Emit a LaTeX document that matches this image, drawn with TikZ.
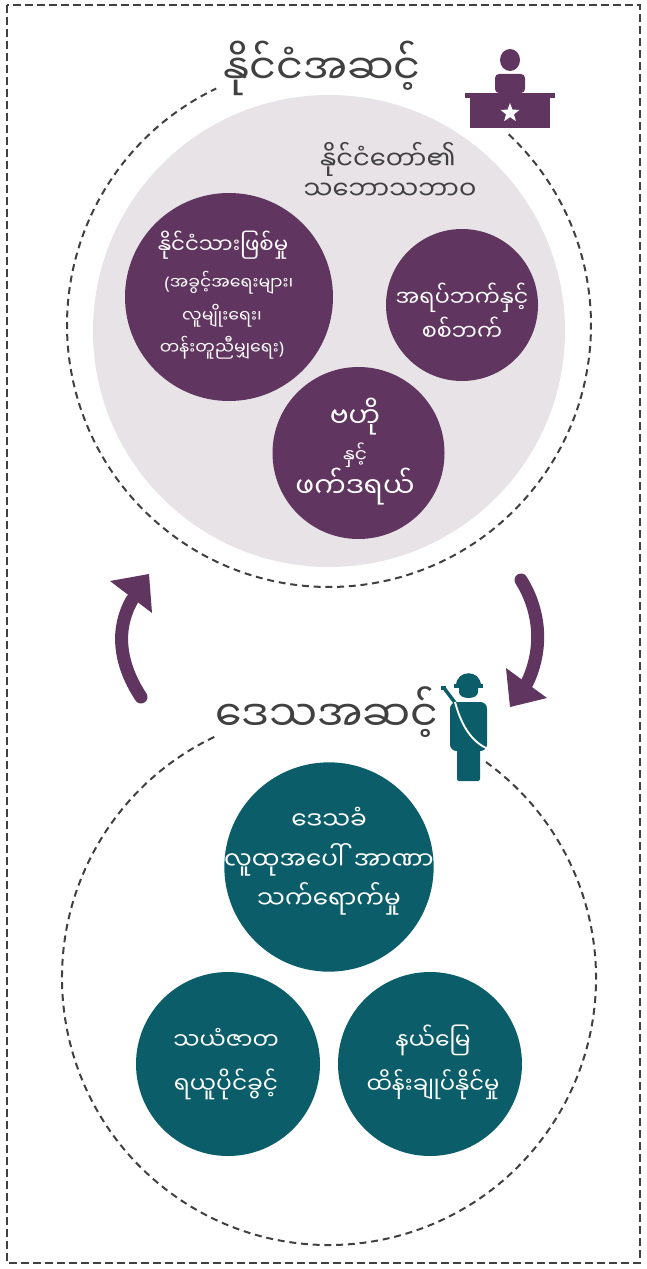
\documentclass[tikz,border=0pt]{standalone}
\usepackage{fontspec}
\newfontfamily\mya[Script=Myanmar]{Noto Sans Myanmar UI}
\newfontfamily\latf{Noto Sans}
\usetikzlibrary{shapes.geometric}
\definecolor{plum}{HTML}{60355F}
\definecolor{tealc}{HTML}{0B5E69}
\definecolor{lgray}{HTML}{E7E3E6}
\definecolor{dgray}{HTML}{404040}
\tikzset{
  mtext/.style={font=\mya\fontsize{#1}{#1}\selectfont, inner sep=0pt, anchor=base},
  wtext/.style={mtext=#1, text=white},
  gtext/.style={mtext=#1, text=dgray},
  dashline/.style={draw=dgray, line width=1.5pt, dash pattern=on 5.2pt off 3.6pt},
  bubble/.style={circle, fill=#1, draw=none, inner sep=0pt},
  bigarrow/.style={draw=plum, line width=9.75pt, line cap=round},
}
\begin{document}
\begin{tikzpicture}[x=0.75pt,y=-0.75pt]
\useasboundingbox (0,0) rectangle (646,1269);
% outer frame
\draw[draw=dgray, line width=1.6pt, dash pattern=on 6pt off 3pt] (7,5) rectangle (640,1263);

% ---------- top (state level) ----------
\node[bubble=lgray, minimum size=354pt] (grayc) at (329,331) {};
\draw[dashline] (329,325) ++(-46.7:262) arc[start angle=-46.7, end angle=244.5, radius=262];
\node[bubble=plum, minimum size=156pt] (cit) at (229,297) {};
\node[bubble=plum, minimum size=114pt] (civ) at (462,305) {};
\node[bubble=plum, minimum size=129pt] (fed) at (358.5,453) {};

\node[gtext=31] (t1) at (322,85) {နိုင်ငံအဆင့်};
\node[gtext=19.3] (n1) at (388,170) {နိုင်ငံတော်၏};
\node[gtext=19.3] (n2) at (390,200) {သဘောသဘာဝ};

\node[wtext=16] (c1) at (223,254) {နိုင်ငံသားဖြစ်မှု};
\node[wtext=13] (c2) at (229,290) {{\latf (}အခွင့်အရေးများ၊};
\node[wtext=13] (c3) at (222,322) {လူမျိုးရေး၊};
\node[wtext=13] (c4) at (222,354) {တန်းတူညီမျှရေး{\latf )}};

\node[wtext=16.7] (v1) at (462,306) {အရပ်ဘက်နှင့်};
\node[wtext=16.7] (v2) at (462,340) {စစ်ဘက်};

\node[wtext=21] (f1) at (355,427) {ဗဟို};
\node[wtext=14] (f2) at (355,462) {နှင့်};
\node[wtext=21] (f3) at (355,497) {ဖက်ဒရယ်};

% podium icon
\fill[plum] (510,60) ellipse[x radius=10, y radius=11];
\fill[plum, rounded corners=3pt] (495,93) -- (495,74) -- (525,74) -- (525,93) -- cycle;
\fill[plum] (465,93) rectangle (555,98);
\fill[plum] (470,98) rectangle (550,128);
\node[star, star points=5, star point ratio=2.4, fill=white, inner sep=0pt, minimum size=15pt] (star) at (510,113) {};

% ---------- arrows ----------
\coordinate (la0) at (141,697);
\coordinate (la1) at (132,600);
\draw[bigarrow] (la0) .. controls (118,662) and (116,628) .. (la1);
\fill[plum] (110,581) -- (149,574) -- (152,613) -- cycle;
\coordinate (ra0) at (521,580);
\coordinate (ra1) at (527,683);
\draw[bigarrow] (ra0) .. controls (541,612) and (543,650) .. (ra1);
\fill[plum] (506,668) -- (547,698) -- (510,707) -- cycle;

% ---------- bottom (regional level) ----------
\draw[dashline] (329,978) ++(-54:267) arc[start angle=-54, end angle=245.5, radius=267];
\node[bubble=tealc, minimum size=157pt] (loc) at (329,867) {};
\node[bubble=tealc, minimum size=138pt] (res) at (228,1064) {};
\node[bubble=tealc, minimum size=138pt] (ter) at (430,1064) {};

\node[gtext=32] (t2) at (327,731) {ဒေသအဆင့်};

\node[wtext=18.5] (l1) at (329,829) {ဒေသခံ};
\node[wtext=18.5] (l2) at (329,869) {လူထုအပေါ်\hspace{7pt}အာဏာ};
\node[wtext=18.5] (l3) at (329,908) {သက်ရောက်မှု};

\node[wtext=17.5] (r1) at (226,1049) {သယံဇာတ};
\node[wtext=17.5] (r2) at (226,1093) {ရယူပိုင်ခွင့်};

\node[wtext=17.5] (e1) at (433,1049) {နယ်မြေ};
\node[wtext=17] (e2) at (433,1093) {ထိန်းချုပ်နိုင်မှု};

% soldier icon
\draw[tealc, line width=2.6pt, line cap=round] (444,688) -- (456,704);
\fill[tealc] (441,686) rectangle (446,690);
\fill[tealc] (456,686) .. controls (456,669) and (481,669) .. (481,686) -- cycle;
\fill[tealc] (454,684) rectangle (483,688);
\fill[tealc] (459,687) -- (478,687) -- (478,692) .. controls (478,700) and (459,700) .. (459,692) -- cycle;
\fill[tealc, rounded corners=5pt] (450,751) -- (450,702) -- (487,702) -- (487,751) -- cycle;
\fill[tealc, rounded corners=1.5pt] (457,745) -- (457,781) -- (480,781) -- (480,745) -- cycle;
\draw[white, line width=1.4pt] (455,702) .. controls (461,724) and (470,740) .. (486,748);
\end{tikzpicture}
\end{document}
